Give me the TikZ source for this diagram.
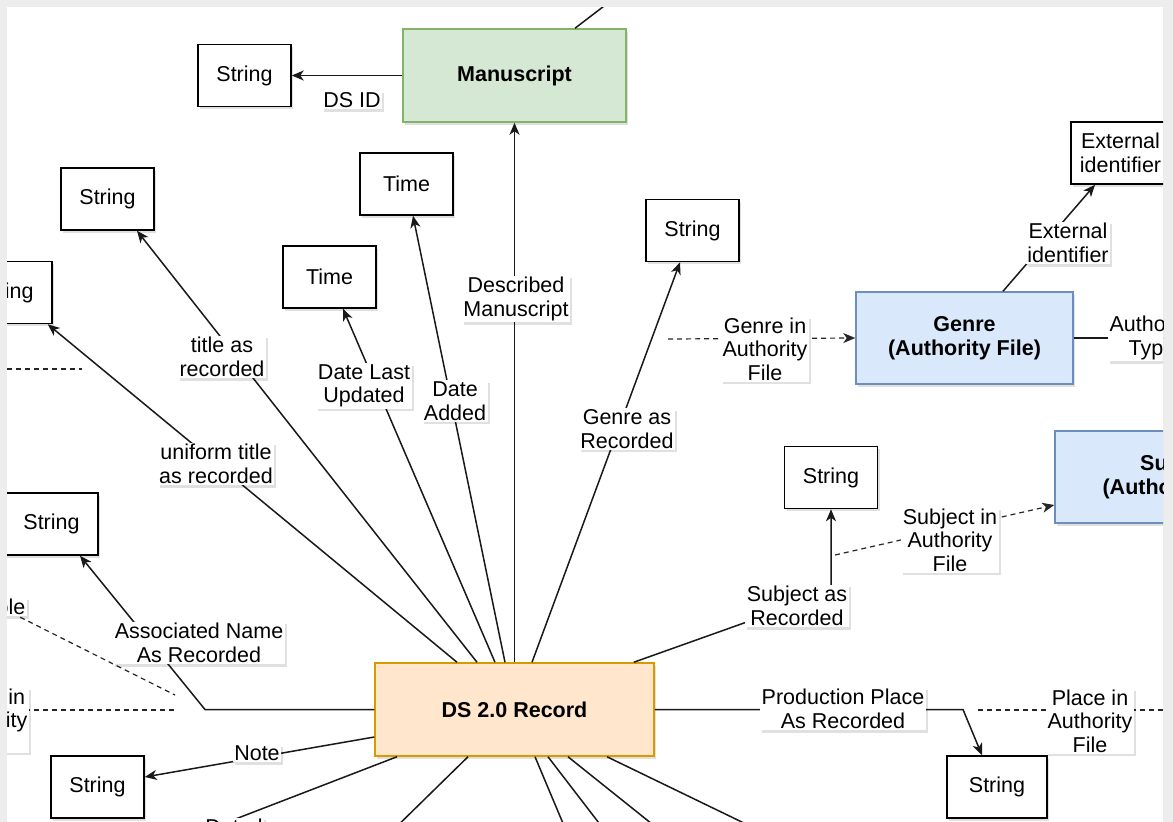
\documentclass[tikz,border=0pt]{standalone}
\usepackage{fontspec}
\setmainfont{Liberation Sans}
\usetikzlibrary{arrows.meta,shadows}
\definecolor{bggray}{HTML}{EDEDED}
\definecolor{msfill}{HTML}{D5E8D4}
\definecolor{msdraw}{HTML}{82B366}
\definecolor{aufill}{HTML}{DAE8FC}
\definecolor{audraw}{HTML}{6C8EBF}
\definecolor{dsfill}{HTML}{FFE6CC}
\definecolor{dsdraw}{HTML}{D79B00}
\begin{document}
\begin{tikzpicture}[x=1pt,y=-1pt,
  every node/.style={font=\fontsize{21.5}{23.5}\selectfont, text=black},
  shd/.style={drop shadow={shadow xshift=2pt,shadow yshift=-2.5pt,opacity=0.12,fill=black}},
  typebox/.style={draw=black, line width=1.5pt, fill=white, shd, minimum width=93pt, minimum height=62pt, inner sep=0pt, align=center},
  entity/.style={draw, line width=1.5pt, shd, inner sep=0pt, align=center, font=\fontsize{21.5}{23.5}\selectfont\bfseries},
  lab/.style={fill=white, inner sep=1.5pt, align=center, shd},
  plainline/.style={line width=1.5pt, draw=black!90},
  conn/.style={plainline, -{Stealth[length=12pt,width=10pt,inset=3.5pt]}},
  dline/.style={line width=1.2pt, draw=black!85, dash pattern=on 5pt off 4pt},
  dconn/.style={dline, -{Stealth[length=12pt,width=10pt,inset=3.5pt]}}
]
\useasboundingbox (0,0) rectangle (1173,822);
\fill[bggray] (0,0) rectangle (1173,822);
\fill[white] (7,7) rectangle (1163,822);
\begin{scope}
\clip (7,7) rectangle (1163,822);

% entity boxes
\node[entity, fill=msfill, draw=msdraw, minimum width=223pt, minimum height=93pt] (ms) at (514.5,75.5) {Manuscript};
\node[entity, fill=dsfill, draw=dsdraw, minimum width=279pt, minimum height=93pt] (ds) at (514.5,709.5) {DS 2.0 Record};
\node[entity, fill=aufill, draw=audraw, minimum width=217pt, minimum height=92pt] (genre) at (964.5,338) {Genre\\(Authority File)};
\node[entity, fill=aufill, draw=audraw, minimum width=248pt, minimum height=92pt] (subj) at (1179,477) {Subject\\(Authority File)};

% type boxes
\node[typebox] (s1) at (244.5,75.5) {String};
\node[typebox] (s2) at (107.5,199) {String};
\node[typebox] (t1) at (406.5,184) {Time};
\node[typebox] (t2) at (329.5,277) {Time};
\node[typebox] (s3) at (692.5,230.5) {String};
\node[typebox] (sng) at (5.5,292.5) {String};
\node[typebox] (s7) at (51.5,524) {String};
\node[typebox] (s4) at (831,477.5) {String};
\node[typebox] (s6) at (97.5,787) {String};
\node[typebox, minimum width=100pt] (s5) at (997,787) {String};
\node[typebox, minimum width=99pt] (ext) at (1120.5,153) {External\\identifier};

% free ends and bends
\coordinate (msup) at (625,-10);
\coordinate (bA) at (205,709.5);
\coordinate (bP) at (963,709.5);
\coordinate (bS) at (831,592);
\coordinate (gdashA) at (668,339);
\coordinate (sdashA) at (835,555);
\coordinate (atEnd) at (1200,338);
\coordinate (pdashA) at (978,710);
\coordinate (pdashB) at (1200,710);
\coordinate (roleA) at (-20,597);
\coordinate (roleB) at (175,695);
\coordinate (nameA) at (-20,710);
\coordinate (nameB) at (175,710);
\coordinate (tlA) at (-20,369);
\coordinate (tlB) at (82,369);
\coordinate (datedEnd) at (181,840);
\coordinate (b1) at (383,840);
\coordinate (b2) at (570,840);
\coordinate (b3) at (612,840);
\coordinate (b4) at (672,840);
\coordinate (b5) at (779,840);

% connectors
\draw[plainline] ([xshift=60.5pt]ms.north) -- (msup);
\draw[conn] (ms.west) -- (s1.east);
\draw[conn] (ds.north) -- (ms.south);
\draw[conn] ([xshift=17.5pt]ds.north) -- ([xshift=-12.5pt]s3.south);
\draw[conn] ([xshift=-9.5pt]ds.north) -- ([xshift=6.5pt]t1.south);
\draw[conn] ([xshift=-19.5pt]ds.north) -- ([xshift=13.5pt]t2.south);
\draw[conn] ([xshift=-37.5pt]ds.north) -- ([xshift=29.5pt]s2.south);
\draw[conn] ([xshift=-57.5pt]ds.north) -- ([xshift=-5pt]sng.south east);
\draw[conn] (ds.west) -- (bA) -- ([xshift=28.5pt]s7.south);
\draw[conn] ([yshift=-27.5pt]ds.west) -- ([yshift=10pt]s6.east);
\draw[plainline] ([xshift=-117.5pt]ds.south) -- (datedEnd);
\draw[plainline] ([xshift=-46.5pt]ds.south) -- (b1);
\draw[plainline] ([xshift=20.5pt]ds.south) -- (b2);
\draw[plainline] ([xshift=33.5pt]ds.south) -- (b3);
\draw[plainline] ([xshift=53.5pt]ds.south) -- (b4);
\draw[plainline] ([xshift=92.5pt]ds.south) -- (b5);
\draw[conn] (ds.east) -- (bP) -- ([xshift=-15pt]s5.north);
\draw[conn] ([xshift=-21pt]ds.north east) -- (bS) -- (s4.south);
\draw[dconn] (sdashA) -- ([yshift=-28pt]subj.west);
\draw[dconn] (gdashA) -- (genre.west);
\draw[plainline] (genre.east) -- (atEnd);
\draw[conn] ([xshift=38.5pt]genre.north) -- ([xshift=-25.5pt]ext.south);
\draw[dline] (pdashA) -- (pdashB);
\draw[dline] (roleA) -- (roleB);
\draw[dline] (nameA) -- (nameB);
\draw[dline] (tlA) -- (tlB);

% labels
\node[lab] (lDSID) at (352,100) {DS ID};
\node[lab] (lDesc) at (516,299) {Described\\Manuscript};
\node[lab] (lGenreRec) at (627,429) {Genre as\\Recorded};
\node[lab] (lAdded) at (455,401) {Date\\Added};
\node[lab] (lUpd) at (364,386) {Date Last\\Updated};
\node[lab] (lTitle) at (222,357) {title as\\recorded};
\node[lab] (lUni) at (216,464) {uniform title\\as recorded};
\node[lab] (lAssoc) at (199,643) {Associated Name\\As Recorded};
\node[lab] (lNote) at (257,753) {Note};
\node[lab] (lDated) at (234,827) {Dated};
\node[lab] (lProd) at (843,709) {Production Place\\As Recorded};
\node[lab] (lSubjRec) at (797,606) {Subject as\\Recorded};
\node[lab] (lSubjAuth) at (950,540) {Subject in\\Authority\\File};
\node[lab] (lGenreAuth) at (765,349) {Genre in\\Authority\\File};
\node[lab] (lAuthType) at (1152,338) {Authority\\Type};
\node[lab] (lExt) at (1068,243) {External\\identifier};
\node[lab] (lPlace) at (1090,721) {Place in\\Authority\\File};
\node[lab, anchor=east] (lRole) at (27,607) {Role};
\node[lab] (lName) at (-15,720) {Name in\\Authority\\File};
\end{scope}
\end{tikzpicture}
\end{document}
